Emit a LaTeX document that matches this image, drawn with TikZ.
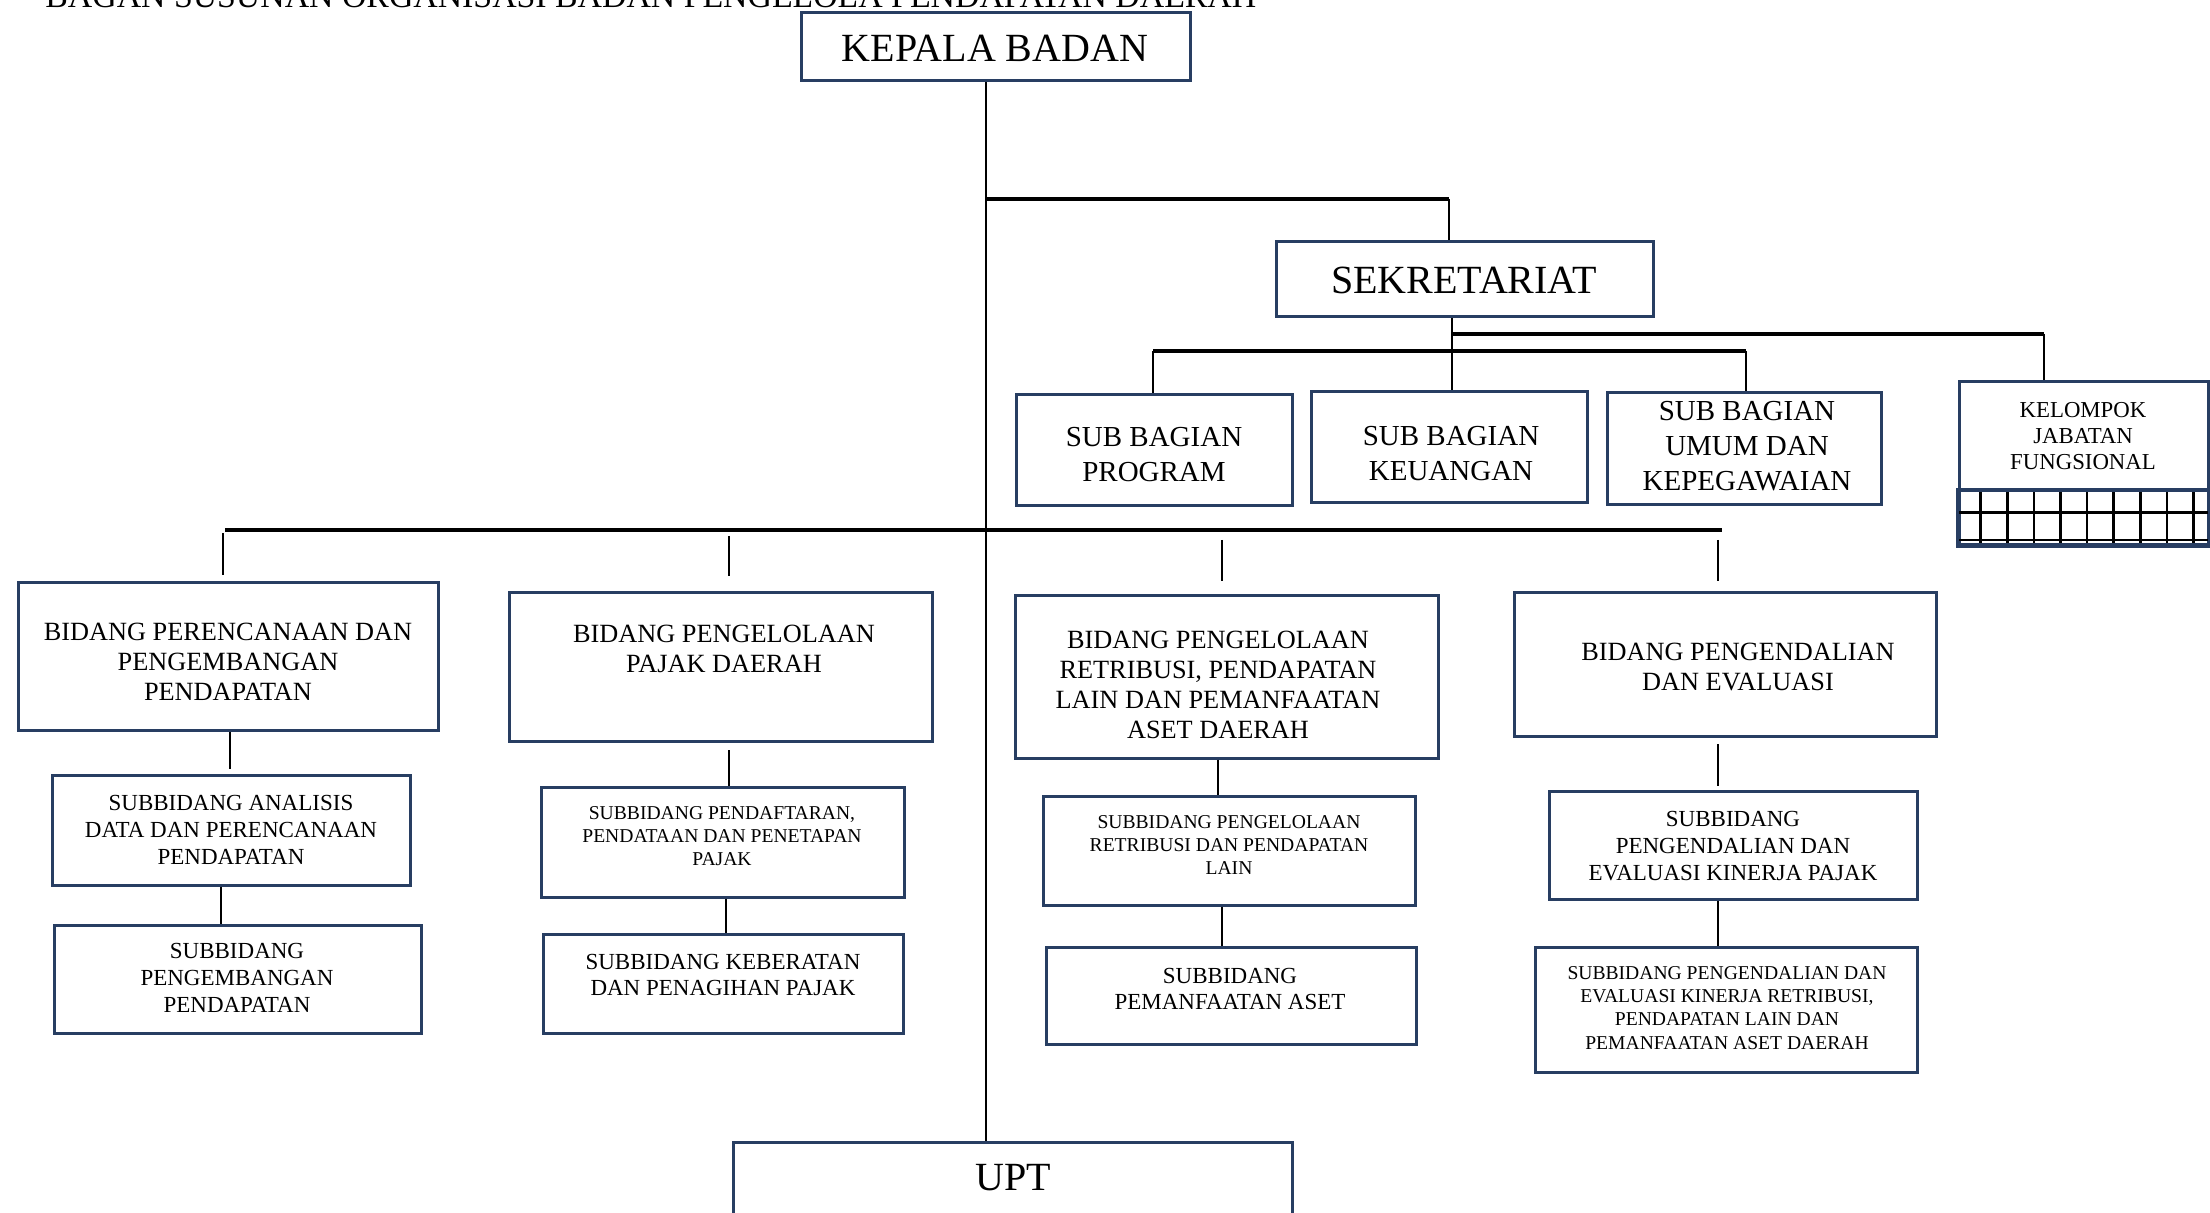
\documentclass[tikz,border=0pt]{standalone}
\usepackage{fontspec}
\setmainfont{Liberation Serif}
\usetikzlibrary{fit}
\definecolor{bordc}{RGB}{40,62,98}
\tikzset{
  bx/.style={draw=bordc, line width=1.5pt, fill=white, inner sep=0pt, rectangle},
  tx/.style={align=center, inner sep=0pt, text=black},
  vl/.style={line width=1.1pt, black},
  hl/.style={line width=1.6pt, black},
  fbig/.style={font=\fontsize{20}{24}\selectfont},
  fsb/.style={font=\fontsize{14.5}{17.5}\selectfont},
  fbd/.style={font=\fontsize{13.15}{15}\selectfont},
  fsl/.style={font=\fontsize{11.5}{13.3}\selectfont},
  fss/.style={font=\fontsize{9.8}{11.6}\selectfont},
  fkel/.style={font=\fontsize{11.4}{13}\selectfont},
}
\begin{document}
\begin{tikzpicture}[x=0.5pt,y=-0.5pt]
\useasboundingbox (0,0) rectangle (2210,1213);
\fill[white] (0,0) rectangle (2210,1213);

% title (partly cut off at the top)
\node[tx, anchor=base west, font=\fontsize{16.9}{20}\selectfont] (title) at (45,8) {BAGAN SUSUNAN ORGANISASI BADAN PENGELOLA PENDAPATAN DAERAH};

% boxes
\node[bx, fit={(801,13)(1190,81)}] (kb) {};
\node[bx, fit={(1276,242)(1653,317)}] (sek) {};
\node[bx, fit={(733,1142)(1292,1240)}] (upt) {};

\node[bx, fit={(1016,395)(1292,506)}] (prog) {};
\node[bx, fit={(1311,392)(1587,503)}] (keu) {};
\node[bx, fit={(1607,393)(1881,505)}] (umum) {};
\node[bx, fit={(1959,382)(2208,491)}] (kel) {};
\node[bx, fit={(1959,491)(2208,545)}] (kelg) {};

\node[bx, fit={(18,582)(438,730)}] (b1) {};
\node[bx, fit={(509,592)(932,741)}] (b2) {};
\node[bx, fit={(1015,595)(1438,758)}] (b3) {};
\node[bx, fit={(1514,592)(1936,736)}] (b4) {};

\node[bx, fit={(52,775)(410,885)}] (s1a) {};
\node[bx, fit={(54,925)(421,1033)}] (s1b) {};
\node[bx, fit={(541,787)(904,897)}] (s2a) {};
\node[bx, fit={(543,934)(903,1033)}] (s2b) {};
\node[bx, fit={(1043,796)(1415,905)}] (s3a) {};
\node[bx, fit={(1046,947)(1416,1044)}] (s3b) {};
\node[bx, fit={(1549,791)(1917,899)}] (s4a) {};
\node[bx, fit={(1535,947)(1917,1072)}] (s4b) {};

% grid of kelompok jabatan fungsional
\foreach \i in {0,...,8} {
  \draw[line width=1.35pt, black] (1980.7+26.6*\i,492.5) -- (1980.7+26.6*\i,543.5);
}
\draw[line width=1.5pt, black] (kelg.west |- 0,513) -- (kelg.east |- 0,513);
\draw[line width=0.9pt, black] (kelg.west |- 0,540) -- (kelg.east |- 0,540);
\draw[draw=bordc, line width=1.5pt] (kelg.north west) rectangle (kelg.south east);

% coordinates
\coordinate (main) at (986,0);
\coordinate (js) at (986,199);
\coordinate (sx) at (1449,199);
\coordinate (sv) at (1452,0);
\coordinate (kx) at (2044,334);
\coordinate (px) at (1153,351);
\coordinate (ux) at (1746,351);
\coordinate (hL) at (225,530);
\coordinate (hR) at (1722,530);

% main trunk
\draw[vl] (kb.south -| main) -- (upt.north -| main);
% to sekretariat
\draw[hl] (js) -- (sx);
\draw[vl] (sx) -- (sek.north -| sx);
% sekretariat down
\draw[vl] (sek.south -| sv) -- (keu.north -| sv);
\draw[hl] (sv |- kx) -- (kx);
\draw[vl] (kx) -- (kel.north -| kx);
\draw[hl] (px) -- (ux);
\draw[vl] (px) -- (prog.north -| px);
\draw[vl] (ux) -- (umum.north -| ux);

% bidang row
\draw[hl] (hL) -- (hR);
\coordinate (v1a) at (223,533); \coordinate (v1b) at (223,575);
\coordinate (v2a) at (729,536); \coordinate (v2b) at (729,576);
\coordinate (v3a) at (1222,540); \coordinate (v3b) at (1222,581);
\coordinate (v4a) at (1718,540); \coordinate (v4b) at (1718,581);
\draw[vl] (v1a) -- (v1b);
\draw[vl] (v2a) -- (v2b);
\draw[vl] (v3a) -- (v3b);
\draw[vl] (v4a) -- (v4b);

% sub connectors
\coordinate (c1) at (230,769);
\draw[vl] (b1.south -| c1) -- (c1);
\draw[vl] (s1a.south -| 221,0) -- (s1b.north -| 221,0);
\coordinate (c2a) at (729,750); \coordinate (c2b) at (729,786);
\draw[vl] (c2a) -- (c2b);
\draw[vl] (s2a.south -| 726,0) -- (s2b.north -| 726,0);
\draw[vl] (b3.south -| 1218,0) -- (s3a.north -| 1218,0);
\draw[vl] (s3a.south -| 1222,0) -- (s3b.north -| 1222,0);
\coordinate (c4a) at (1718,744); \coordinate (c4b) at (1718,786);
\draw[vl] (c4a) -- (c4b);
\draw[vl] (s4a.south -| 1718,0) -- (s4b.north -| 1718,0);

% texts
\node[tx, fbig] (kbt) at (995,48) {KEPALA BADAN};
\node[tx, fbig] (sekt) at (1464,280.5) {SEKRETARIAT};
\node[tx, fbig] (uptt) at (1013,1178) {UPT};

\node[tx, fsb] (progt) at (1154,455) {SUB BAGIAN\\PROGRAM};
\node[tx, fsb] (keut) at (1451,454) {SUB BAGIAN\\KEUANGAN};
\node[tx, fsb] (umumt) at (1747,446) {SUB BAGIAN\\UMUM DAN\\KEPEGAWAIAN};
\node[tx, fkel] (kelt) at (2083,436) {KELOMPOK\\JABATAN\\FUNGSIONAL};

\node[tx, fbd] (b1t) at (228,662) {BIDANG PERENCANAAN DAN\\PENGEMBANGAN\\PENDAPATAN};
\node[tx, fbd] (b2t) at (724,649) {BIDANG PENGELOLAAN\\PAJAK DAERAH};
\node[tx, fbd] (b3t) at (1218,685) {BIDANG PENGELOLAAN\\RETRIBUSI, PENDAPATAN\\LAIN DAN PEMANFAATAN\\ASET DAERAH};
\node[tx, fbd] (b4t) at (1738,667) {BIDANG PENGENDALIAN\\DAN EVALUASI};

\node[tx, fsl] (s1at) at (231,830) {SUBBIDANG ANALISIS\\DATA DAN PERENCANAAN\\PENDAPATAN};
\node[tx, fsl] (s1bt) at (237,978) {SUBBIDANG\\PENGEMBANGAN\\PENDAPATAN};
\node[tx, fss] (s2at) at (722,836) {SUBBIDANG PENDAFTARAN,\\PENDATAAN DAN PENETAPAN\\PAJAK};
\node[tx, fsl] (s2bt) at (723,975) {SUBBIDANG KEBERATAN\\DAN PENAGIHAN PAJAK};
\node[tx, fss] (s3at) at (1229,845) {SUBBIDANG PENGELOLAAN\\RETRIBUSI DAN PENDAPATAN\\LAIN};
\node[tx, fsl] (s3bt) at (1230,989) {SUBBIDANG\\PEMANFAATAN ASET};
\node[tx, fsl] (s4at) at (1733,846) {SUBBIDANG\\PENGENDALIAN DAN\\EVALUASI KINERJA PAJAK};
\node[tx, fss] (s4bt) at (1727,1008) {SUBBIDANG PENGENDALIAN DAN\\EVALUASI KINERJA RETRIBUSI,\\PENDAPATAN LAIN DAN\\PEMANFAATAN ASET DAERAH};
\end{tikzpicture}
\end{document}
